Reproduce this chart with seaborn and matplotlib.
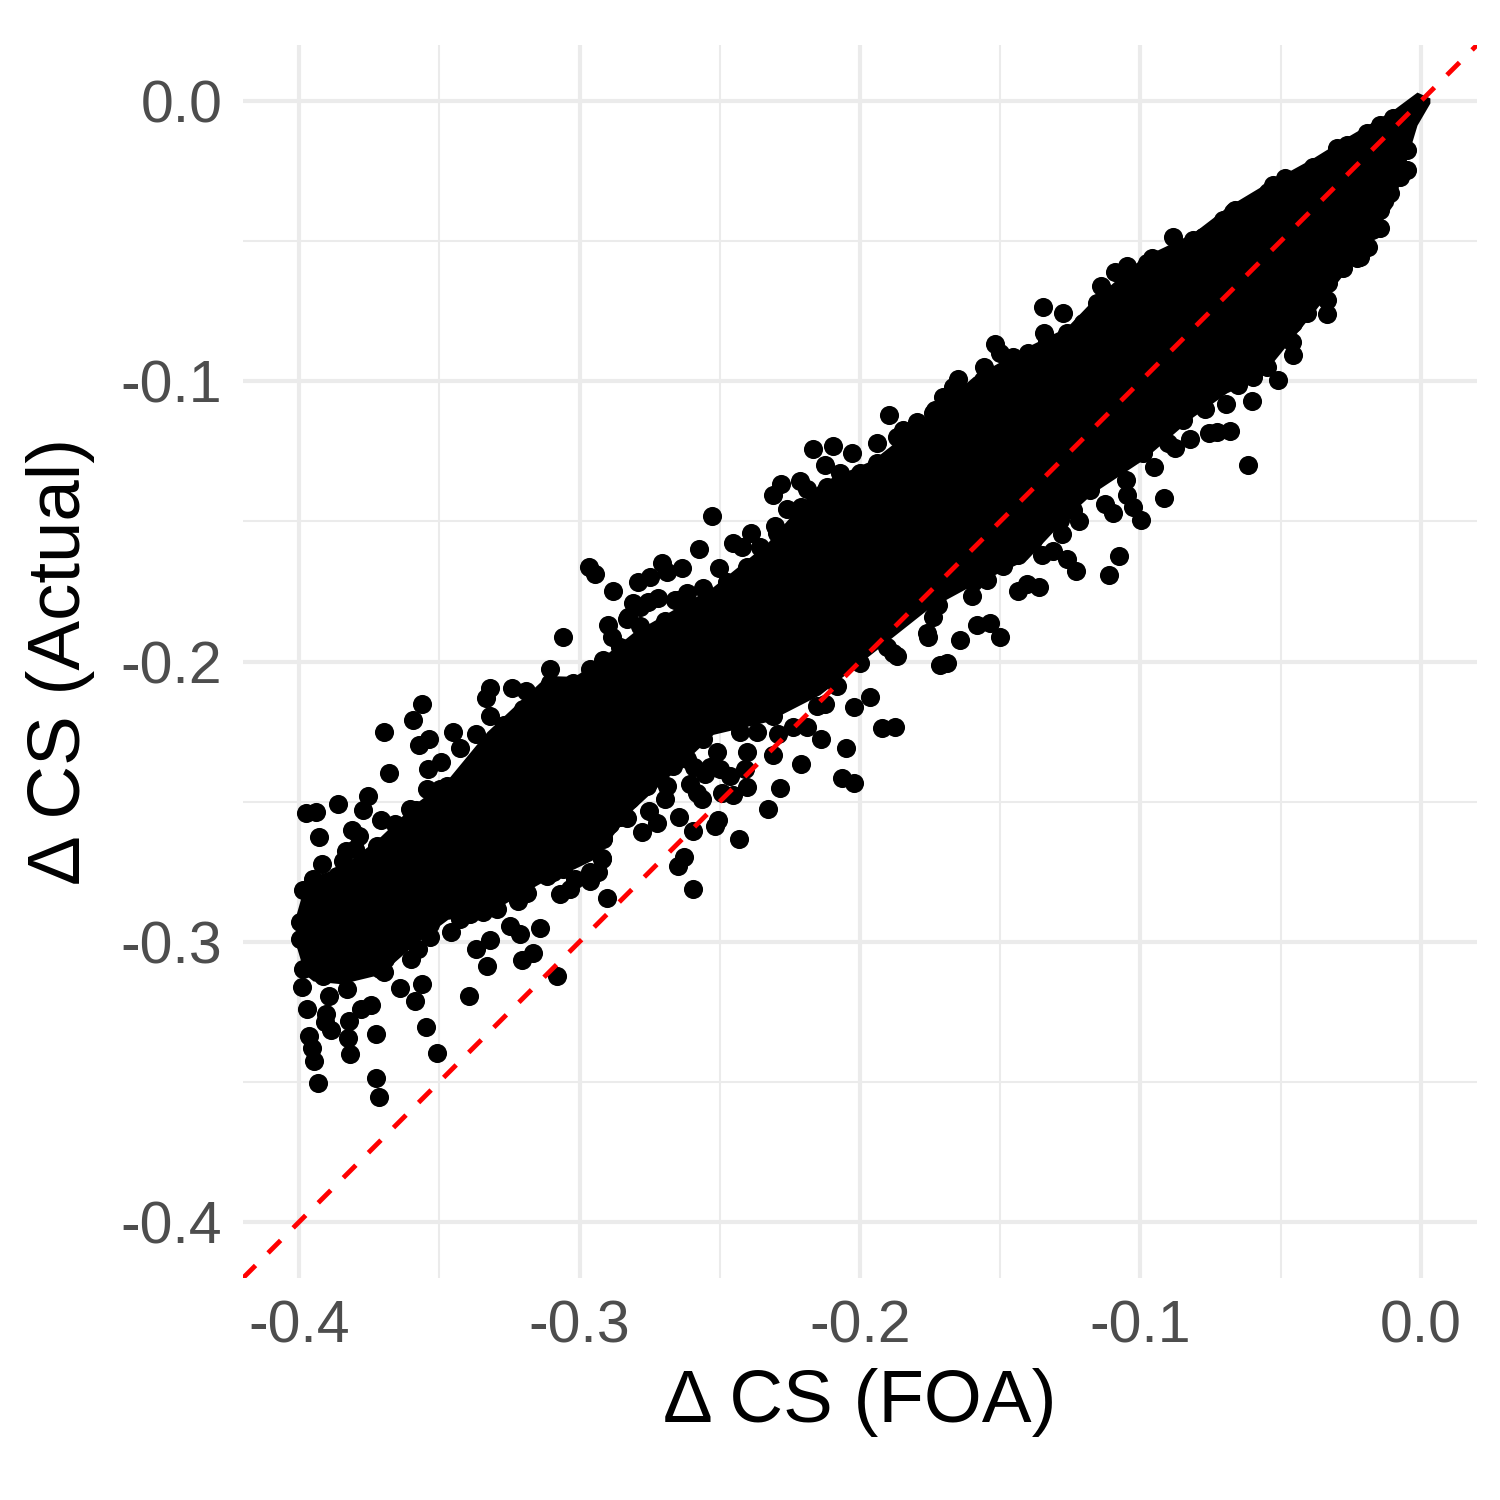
"""Scatter of change in CS, actual against first order approximation."""
import matplotlib
matplotlib.use('Agg')
import matplotlib.pyplot as plt
import pandas as pd
import seaborn as sns

# solid part of the cloud, edges
band_x = [-0.401, -0.398, -0.395, -0.385, -0.371, -0.359, -0.347, -0.333, -0.3116, -0.302,
          -0.295, -0.281, -0.2667, -0.2524, -0.233, -0.2143, -0.1954, -0.1761, -0.1597, -0.1405,
          -0.1262, -0.1169, -0.0991, -0.0813, -0.0692, -0.0574, -0.0385, -0.0264, -0.01, -0.0014, 0.0032]
band_top = [-0.290, -0.2795, -0.2766, -0.2734, -0.2624, -0.251, -0.242, -0.225, -0.205, -0.2053,
            -0.201, -0.1897, -0.1815, -0.1733, -0.1576, -0.1362, -0.128, -0.1127, -0.0984, -0.0877,
            -0.0806, -0.0709, -0.0556, -0.0471, -0.0378, -0.0307, -0.0203, -0.0128, -0.0032, 0.0032, 0.0011]
band_bottom = [-0.3016, -0.3116, -0.314, -0.315, -0.3116, -0.301, -0.292, -0.290, -0.2777, -0.274,
               -0.2706, -0.2528, -0.2396, -0.226, -0.2214, -0.2118, -0.1968, -0.1815, -0.1726, -0.1636,
               -0.1483, -0.1398, -0.128, -0.1127, -0.1041, -0.0988, -0.0756, -0.0602, -0.0371, -0.0086, -0.0007]

# separately visible points, low end of the cloud
low_x = [-0.3562, -0.3594, -0.3697, -0.3537, -0.3572, -0.3679, -0.3494, -0.3540, -0.3451, -0.3426,
         -0.3319, -0.3333, -0.3241, -0.3191, -0.3201, -0.3319, -0.3269, -0.3369, -0.3754, -0.3772,
         -0.3861, -0.3975, -0.3939, -0.3929, -0.3708, -0.3811, -0.3786, -0.3832, -0.3843, -0.3918,
         -0.3583, -0.3986, -0.3996, -0.3996, -0.3989, -0.3971, -0.3964, -0.3954, -0.3947, -0.3932,
         -0.3893, -0.3904, -0.3907, -0.3886, -0.3822, -0.3825, -0.3818, -0.3725, -0.3725, -0.3715,
         -0.3743, -0.3779, -0.3640, -0.3562, -0.3586, -0.3547, -0.3508, -0.3697, -0.3394, -0.3080,
         -0.3330, -0.3369, -0.3319, -0.3205, -0.3166, -0.3141, -0.3212, -0.3248, -0.3601, -0.3576,
         -0.3533, -0.3458, -0.3390, -0.3344, -0.3294, -0.3219, -0.3187, -0.2902, -0.3034, -0.2963,
         -0.2934, -0.2920, -0.2916, -0.3116, -0.2856]
low_y = [-0.2153, -0.2210, -0.2253, -0.2275, -0.2299, -0.2399, -0.2360, -0.2385, -0.2253, -0.2310,
         -0.2093, -0.2132, -0.2096, -0.2107, -0.2171, -0.2196, -0.2225, -0.2260, -0.2481, -0.2531,
         -0.2510, -0.2542, -0.2538, -0.2627, -0.2567, -0.2602, -0.2624, -0.2677, -0.2713, -0.2724,
         -0.2531, -0.2816, -0.2930, -0.2991, -0.3162, -0.3241, -0.3337, -0.3380, -0.3426, -0.3504,
         -0.3194, -0.3258, -0.3287, -0.3316, -0.3283, -0.3344, -0.3401, -0.3330, -0.3487, -0.3554,
         -0.3226, -0.3241, -0.3166, -0.3151, -0.3212, -0.3305, -0.3398, -0.3109, -0.3194, -0.3123,
         -0.3087, -0.3027, -0.2995, -0.3066, -0.3041, -0.2952, -0.2973, -0.2945, -0.3062, -0.3027,
         -0.2984, -0.2966, -0.2902, -0.2895, -0.2884, -0.2856, -0.2827, -0.2845, -0.2813, -0.2784,
         -0.2752, -0.2706, -0.2635, -0.2766, -0.2556]

# middle of the cloud
mid_x = [-0.1897, -0.1797, -0.1939, -0.2168, -0.2096, -0.2029, -0.2125, -0.2528, -0.2282, -0.2310,
         -0.2214, -0.2189, -0.2260, -0.2210, -0.2389, -0.2453, -0.2421, -0.2303, -0.2574, -0.2503,
         -0.2966, -0.2945, -0.2881, -0.2706, -0.2635, -0.2688, -0.2749, -0.2791, -0.2809, -0.2720,
         -0.2756, -0.2652, -0.2617, -0.2560, -0.2898, -0.2884, -0.3059, -0.2695, -0.2831, -0.1964,
         -0.2021, -0.1922, -0.1875, -0.2050, -0.2139, -0.2210, -0.2064, -0.2021, -0.2285, -0.2328,
         -0.2310, -0.2403, -0.2431, -0.2595, -0.2649, -0.2627, -0.2595, -0.2517, -0.2506, -0.2645,
         -0.2724, -0.2777, -0.2831, -0.2752, -0.2563, -0.2581, -0.2492, -0.2453, -0.2916, -0.2920,
         -0.1868, -0.1758, -0.1715, -0.2082, -0.2189, -0.2239, -0.2292, -0.2367, -0.2403, -0.2463,
         -0.2125, -0.2535, -0.2592]
mid_y = [-0.1119, -0.1144, -0.1219, -0.1241, -0.1230, -0.1255, -0.1298, -0.1480, -0.1365, -0.1405,
         -0.1355, -0.1383, -0.1455, -0.1447, -0.1540, -0.1576, -0.1590, -0.1515, -0.1597, -0.1665,
         -0.1661, -0.1686, -0.1750, -0.1647, -0.1668, -0.1679, -0.1700, -0.1718, -0.1790, -0.1775,
         -0.1786, -0.1779, -0.1754, -0.1736, -0.1868, -0.1911, -0.1911, -0.1857, -0.1850, -0.2125,
         -0.2164, -0.2239, -0.2235, -0.2307, -0.2278, -0.2367, -0.2417, -0.2435, -0.2453, -0.2528,
         -0.2332, -0.2449, -0.2635, -0.2813, -0.2731, -0.2699, -0.2606, -0.2588, -0.2567, -0.2556,
         -0.2578, -0.2610, -0.2560, -0.2535, -0.2492, -0.2471, -0.2471, -0.2478, -0.2631, -0.2702,
         -0.1982, -0.1914, -0.2011, -0.2089, -0.2232, -0.2235, -0.2257, -0.2250, -0.2324, -0.2410,
         -0.2153, -0.2378, -0.2378]

# upper end of the cloud
high_x = [-0.1348, -0.1276, -0.1344, -0.1519, -0.1558, -0.1651, -0.1704, -0.1141, -0.1091, -0.1048,
          -0.0884, -0.0617, -0.0916, -0.0998, -0.1027, -0.1048, -0.1098, -0.1127, -0.1052, -0.1219,
          -0.1077, -0.1112, -0.1230, -0.1262, -0.1362, -0.1405, -0.1437, -0.1490, -0.1437, -0.1351,
          -0.1312, -0.1280, -0.1547, -0.1601, -0.1722, -0.1537, -0.1583, -0.0824, -0.0756, -0.0727,
          -0.0681, -0.0695, -0.0602, -0.0770, -0.0652, -0.0952, -0.1066, -0.0877, -0.0335, -0.0335,
          -0.0456, -0.0460, -0.0510, -0.0549, -0.0189, -0.0228, -0.0146, -0.0111, -0.0075, -0.0050,
          -0.0959, -0.0663, -0.0528, -0.0299]
high_y = [-0.0734, -0.0756, -0.0827, -0.0866, -0.0948, -0.0991, -0.1055, -0.0660, -0.0610, -0.0588,
          -0.0485, -0.1298, -0.1415, -0.1494, -0.1447, -0.1405, -0.1469, -0.1437, -0.1351, -0.1497,
          -0.1622, -0.1690, -0.1676, -0.1636, -0.1733, -0.1725, -0.1747, -0.1658, -0.1619, -0.1619,
          -0.1604, -0.1544, -0.1708, -0.1768, -0.1797, -0.1861, -0.1868, -0.1205, -0.1184, -0.1180,
          -0.1176, -0.1080, -0.1070, -0.1098, -0.1012, -0.1305, -0.1262, -0.1237, -0.0759, -0.0709,
          -0.0906, -0.0859, -0.0995, -0.0948, -0.0520, -0.0560, -0.0453, -0.0328, -0.0271, -0.0246,
          -0.0560, -0.0389, -0.0299, -0.0168]

# points along the upper rim of the cloud
rim_top_x = [-0.3950, -0.3865, -0.3722, -0.3640, -0.3558, -0.3544, -0.3472, -0.3426, -0.3355, -0.3294,
             -0.3201, -0.3130, -0.3105, -0.3105, -0.3023, -0.2963, -0.2916, -0.2856, -0.2827, -0.2784,
             -0.2784, -0.2659, -0.2617, -0.2545, -0.2474, -0.2403, -0.2356, -0.2296, -0.2214, -0.2118,
             -0.2071, -0.2000, -0.1939, -0.1868, -0.1822, -0.1740, -0.1847, -0.1733, -0.1668, -0.1561,
             -0.1501, -0.1455, -0.1401, -0.1333, -0.1262, -0.1205, -0.1155, -0.1084, -0.0977, -0.0955,
             -0.0813, -0.0777, -0.0706, -0.0670, -0.0599, -0.0545, -0.0485, -0.0385, -0.0299, -0.0264,
             -0.0193, -0.0146, -0.0100]
rim_top_y = [-0.2777, -0.2767, -0.2659, -0.2610, -0.2574, -0.2456, -0.2446, -0.2446, -0.2410, -0.2289,
             -0.2253, -0.2217, -0.2028, -0.2075, -0.2075, -0.2028, -0.1993, -0.1950, -0.1840, -0.1804,
             -0.1875, -0.1779, -0.1825, -0.1779, -0.1718, -0.1661, -0.1590, -0.1540, -0.1504, -0.1376,
             -0.1326, -0.1326, -0.1291, -0.1198, -0.1198, -0.1112, -0.1173, -0.1102, -0.1020, -0.0995,
             -0.0898, -0.0913, -0.0898, -0.0852, -0.0827, -0.0791, -0.0720, -0.0699, -0.0578, -0.0567,
             -0.0496, -0.0485, -0.0424, -0.0396, -0.0378, -0.0324, -0.0275, -0.0235, -0.0175, -0.0157,
             -0.0114, -0.0086, -0.0061]

# points along the lower rim of the cloud
rim_bottom_x = [-0.0050, -0.0082, -0.0118, -0.0146, -0.0175, -0.0217, -0.0278, -0.0332, -0.0406, -0.0456,
                -0.0513, -0.0567, -0.0599, -0.0656, -0.0742, -0.0848, -0.0902, -0.0991, -0.1134, -0.1180,
                -0.1241, -0.1287, -0.1383, -0.1440, -0.1526, -0.1597, -0.1668, -0.1740, -0.1740, -0.1761,
                -0.1882, -0.1904, -0.2000, -0.2153, -0.2189, -0.2257, -0.2310, -0.2428, -0.2510, -0.2560,
                -0.2617, -0.2667, -0.2688, -0.2759, -0.2856, -0.2916, -0.2987, -0.2998, -0.3034, -0.2963,
                -0.3094, -0.3059, -0.3151, -0.3223, -0.3237, -0.3330, -0.3355, -0.3451, -0.3558, -0.3651,
                -0.3711, -0.3829, -0.3914, -0.3986]
rim_bottom_y = [-0.0175, -0.0257, -0.0317, -0.0389, -0.0460, -0.0556, -0.0595, -0.0649, -0.0756, -0.0791,
                -0.0852, -0.0877, -0.0984, -0.1005, -0.1030, -0.1137, -0.1219, -0.1255, -0.1291, -0.1387,
                -0.1458, -0.1494, -0.1565, -0.1590, -0.1647, -0.1718, -0.1718, -0.1790, -0.1840, -0.1897,
                -0.1968, -0.1947, -0.2004, -0.2160, -0.2100, -0.2135, -0.2196, -0.2253, -0.2324, -0.2278,
                -0.2349, -0.2374, -0.2446, -0.2446, -0.2456, -0.2528, -0.2588, -0.2670, -0.2681, -0.2752,
                -0.2752, -0.2741, -0.2741, -0.2766, -0.2802, -0.2788, -0.2873, -0.2873, -0.2945, -0.2991,
                -0.3098, -0.3169, -0.3123, -0.3098]

# a few more that were missed on the first pass
extra_x = [-0.1501, -0.1690, -0.1643, -0.3497, -0.3426, -0.3283, -0.3533, -0.3693, -0.3497, -0.3604,
           -0.3658, -0.3800, -0.2820, -0.2695, -0.2606, -0.2891, -0.3016, -0.3069, -0.2963, -0.2410,
           -0.2499, -0.2553]
extra_y = [-0.1914, -0.2007, -0.1925, -0.2866, -0.2920, -0.2831, -0.2938, -0.3062, -0.2456, -0.2528,
           -0.2581, -0.2670, -0.2492, -0.2492, -0.2438, -0.2581, -0.2777, -0.2831, -0.2652, -0.2385,
           -0.2385, -0.2403]

major_ticks = [-0.4, -0.3, -0.2, -0.1, 0.0]
minor_ticks = [-0.35, -0.25, -0.15, -0.05]
tick_labels = ['-0.4', '-0.3', '-0.2', '-0.1', '0.0']
limits = (-0.42, 0.02)

sns.set_theme(style='whitegrid')
plt.rcParams['font.family'] = ['Liberation Sans', 'DejaVu Sans']

df = pd.DataFrame({
    'foa': low_x + mid_x + high_x + rim_top_x + rim_bottom_x + extra_x,
    'actual': low_y + mid_y + high_y + rim_top_y + rim_bottom_y + extra_y,
})

fig = plt.figure(figsize=(5, 5), dpi=300)
ax = fig.add_axes([243 / 1500, 1 - 1278 / 1500, 1234 / 1500, 1233 / 1500])

ax.fill_between(band_x, band_bottom, band_top, color='black', lw=0, zorder=2)
sns.scatterplot(data=df, x='foa', y='actual', color='black', s=21, linewidth=0, ax=ax, zorder=3)
ax.axline((0, 0), slope=1, color='red', lw=1.15, linestyle=(0, (3.7, 3.7)), zorder=4)

ax.set_xlim(limits)
ax.set_ylim(limits)
ax.set_xticks(major_ticks)
ax.set_yticks(major_ticks)
ax.set_xticklabels(tick_labels)
ax.set_yticklabels(tick_labels)
ax.set_xticks(minor_ticks, minor=True)
ax.set_yticks(minor_ticks, minor=True)
ax.grid(True, which='major', color='#EBEBEB', lw=1.0)
ax.grid(True, which='minor', color='#EBEBEB', lw=0.5)
ax.set_axisbelow(True)
ax.tick_params(which='both', length=0)
ax.tick_params(axis='both', which='major', labelsize=14.2, labelcolor='#4D4D4D')
ax.tick_params(axis='x', which='major', pad=5.2)
ax.tick_params(axis='y', which='major', pad=5.0)
sns.despine(ax=ax, left=True, bottom=True, right=True, top=True)

ax.set_xlabel('Δ CS (FOA)', fontsize=17.9, color='black', labelpad=3.3)
ax.set_ylabel('Δ CS (Actual)', fontsize=17.9, color='black', labelpad=6.2)

fig.savefig('out.png', dpi=300)
